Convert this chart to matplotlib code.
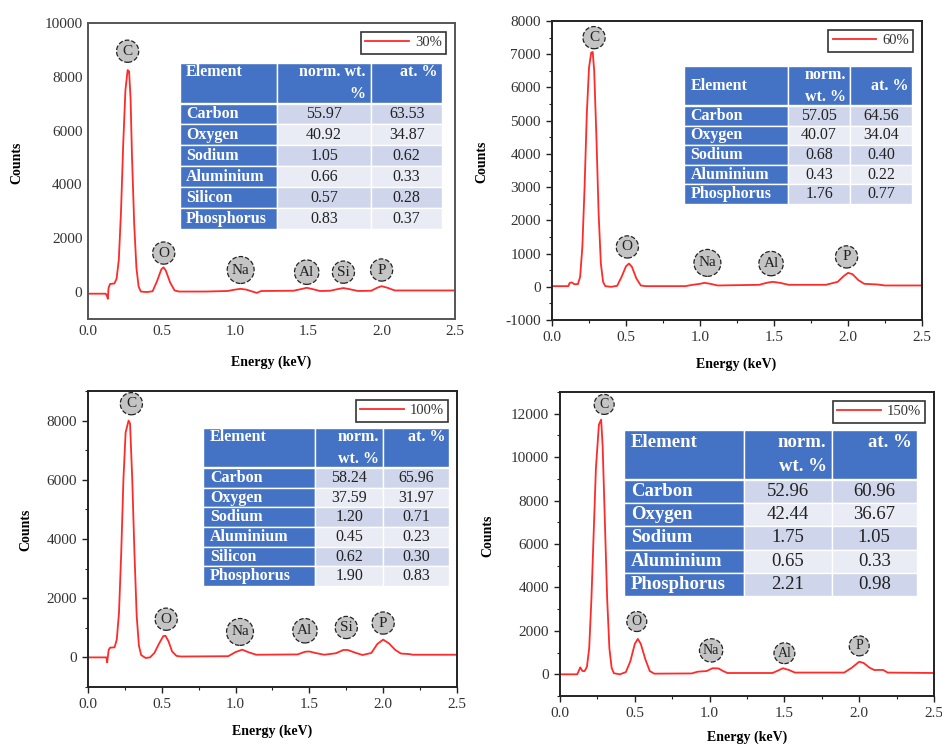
import matplotlib
matplotlib.use("Agg")
import matplotlib.pyplot as plt
from matplotlib.ticker import MultipleLocator, FormatStrFormatter

plt.rcParams["font.family"] = ["Liberation Serif", "DejaVu Serif"]
plt.rcParams["axes.unicode_minus"] = False

# ---- spectra (energy keV, counts) ----
e_30 = [0.00, 0.12, 0.13, 0.135, 0.14, 0.15, 0.18, 0.195, 0.21, 0.225, 0.24, 0.255, 0.27, 0.28,
        0.29, 0.30, 0.315, 0.33, 0.345, 0.36, 0.40, 0.44, 0.47, 0.50, 0.515, 0.53, 0.56, 0.59,
        0.62, 0.80, 0.95, 1.00, 1.04, 1.08, 1.12, 1.15, 1.18, 1.40, 1.46, 1.49, 1.53, 1.58,
        1.65, 1.70, 1.74, 1.78, 1.84, 1.93, 1.97, 2.00, 2.04, 2.09, 2.20, 2.50]
c_30 = [-60, -60, -150, -250, 150, 300, 320, 500, 1200, 3000, 5500, 7500, 8250, 8200,
        7200, 5000, 2500, 900, 200, 20, 0, 30, 400, 850, 920, 800, 350, 60,
        20, 20, 40, 90, 120, 90, 20, -30, 40, 50, 120, 160, 110, 40,
        50, 110, 150, 110, 40, 50, 160, 220, 160, 60, 60, 60]

e_60 = [0.00, 0.11, 0.12, 0.135, 0.15, 0.175, 0.19, 0.205, 0.22, 0.235, 0.25, 0.265, 0.275,
        0.285, 0.30, 0.315, 0.33, 0.345, 0.36, 0.40, 0.44, 0.47, 0.50, 0.52, 0.54, 0.57, 0.60,
        0.63, 0.90, 0.95, 1.00, 1.03, 1.07, 1.12, 1.40, 1.45, 1.49, 1.54, 1.60, 1.85, 1.93,
        1.97, 2.00, 2.03, 2.07, 2.11, 2.20, 2.25, 2.50]
c_60 = [20, 20, 120, 130, 80, 80, 300, 1200, 3000, 5200, 6600, 7050, 7070,
        6500, 4500, 2200, 700, 150, 20, 0, 30, 300, 620, 700, 600, 250, 40,
        20, 20, 60, 90, 120, 90, 40, 60, 120, 150, 120, 60, 60, 150,
        320, 420, 380, 200, 90, 70, 40, 40]

e_100 = [0.00, 0.125, 0.13, 0.14, 0.15, 0.18, 0.195, 0.21, 0.225, 0.24, 0.255, 0.275, 0.285,
         0.30, 0.315, 0.33, 0.345, 0.36, 0.39, 0.42, 0.45, 0.48, 0.51, 0.525, 0.545, 0.57, 0.60,
         0.63, 0.95, 1.00, 1.045, 1.09, 1.14, 1.42, 1.47, 1.50, 1.54, 1.60, 1.68, 1.73, 1.76,
         1.81, 1.86, 1.92, 1.96, 2.00, 2.04, 2.08, 2.12, 2.18, 2.20, 2.50]
c_100 = [0, 0, -170, 250, 330, 340, 600, 1500, 3500, 6000, 7600, 8000, 7900,
         6000, 3500, 1400, 400, 80, -20, 0, 150, 450, 720, 730, 550, 200, 50,
         30, 40, 180, 260, 170, 90, 100, 190, 200, 150, 90, 140, 250, 250,
         160, 80, 150, 450, 600, 470, 260, 130, 110, 90, 90]

e_150 = [0.00, 0.115, 0.125, 0.135, 0.15, 0.165, 0.18, 0.195, 0.21, 0.225, 0.24, 0.26, 0.275,
         0.285, 0.30, 0.315, 0.33, 0.345, 0.36, 0.40, 0.44, 0.47, 0.50, 0.52, 0.54, 0.57, 0.60,
         0.63, 0.88, 0.92, 0.98, 1.02, 1.06, 1.09, 1.12, 1.42, 1.46, 1.49, 1.53, 1.57, 1.90,
         1.95, 2.00, 2.03, 2.07, 2.10, 2.16, 2.19, 2.50]
c_150 = [0, 0, 150, 320, 150, 150, 350, 1200, 3500, 6500, 9500, 11500, 11730,
         10500, 7000, 3500, 1200, 300, 50, 0, 100, 600, 1400, 1630, 1400, 700, 150,
         30, 40, 120, 150, 280, 270, 150, 60, 60, 180, 280, 200, 80, 80,
         300, 580, 520, 300, 200, 200, 80, 60]

# ---- peak labels (symbol, energy, height of label) ----
lab_30 = [("C", 0.27, 8950), ("O", 0.516, 1450), ("Na", 1.04, 820),
          ("Al", 1.49, 740), ("Si", 1.74, 740), ("P", 2.0, 820)]
lab_60 = [("C", 0.284, 7500), ("O", 0.509, 1200), ("Na", 1.05, 720),
          ("Al", 1.48, 700), ("P", 1.99, 900)]
lab_100 = [("C", 0.294, 8570), ("O", 0.53, 1290), ("Na", 1.03, 860),
           ("Al", 1.47, 900), ("Si", 1.75, 1010), ("P", 2.0, 1160)]
lab_150 = [("C", 0.295, 12430), ("O", 0.513, 2430), ("Na", 1.01, 1100),
           ("Al", 1.5, 970), ("P", 2.0, 1310)]

# ---- composition tables ----
el_30 = ["Carbon", "Oxygen", "Sodium", "Aluminium", "Silicon", "Phosphorus"]
wt_30 = ["55.97", "40.92", "1.05", "0.66", "0.57", "0.83"]
at_30 = ["63.53", "34.87", "0.62", "0.33", "0.28", "0.37"]

el_60 = ["Carbon", "Oxygen", "Sodium", "Aluminium", "Phosphorus"]
wt_60 = ["57.05", "40.07", "0.68", "0.43", "1.76"]
at_60 = ["64.56", "34.04", "0.40", "0.22", "0.77"]

el_100 = ["Carbon", "Oxygen", "Sodium", "Aluminium", "Silicon", "Phosphorus"]
wt_100 = ["58.24", "37.59", "1.20", "0.45", "0.62", "1.90"]
at_100 = ["65.96", "31.97", "0.71", "0.23", "0.30", "0.83"]

el_150 = ["Carbon", "Oxygen", "Sodium", "Aluminium", "Phosphorus"]
wt_150 = ["52.96", "42.44", "1.75", "0.65", "2.21"]
at_150 = ["60.96", "36.67", "1.05", "0.33", "0.98"]

BLUE = "#4472c4"
DARK_ROW = "#cfd5ea"
LIGHT_ROW = "#e9ebf5"


def draw_table(ax, els, wts, ats, header, bbox, col_w, head_h, fs):
    rows = [list(header), ["", "", ""]] + [[e, w, a] for e, w, a in zip(els, wts, ats)]
    tab = ax.table(cellText=rows, bbox=bbox, cellLoc="center", zorder=5)
    tab.auto_set_font_size(False)
    for (r, c), cell in tab.get_celld().items():
        cell.set_width(col_w[c])
        cell.set_edgecolor("white")
        cell.set_linewidth(1.0)
        cell.PAD = 0.06
        txt = cell.get_text()
        txt.set_fontsize(fs)
        if r == 0:
            cell.set_height(head_h)
            cell.set_facecolor(BLUE)
            txt.set_color("white")
            txt.set_fontweight("bold")
            txt.set_horizontalalignment("left" if c == 0 else "right")
            txt.set_linespacing(1.5)
        elif r == 1:
            cell.set_height(0.04)
            cell.set_facecolor("white")
            cell.set_linewidth(0)
        else:
            cell.set_height(1.0)
            if c == 0:
                cell.set_facecolor(BLUE)
                txt.set_color("white")
                txt.set_fontweight("bold")
                txt.set_horizontalalignment("left")
            else:
                cell.set_facecolor(DARK_ROW if (r - 2) % 2 == 0 else LIGHT_ROW)
                txt.set_color("#222222")
    return tab


def style_axes(ax, ylim, ymaj, ymin, spine_col, ticks=True):
    ax.set_xlim(0, 2.5)
    ax.set_ylim(*ylim)
    ax.xaxis.set_major_locator(MultipleLocator(0.5))
    ax.xaxis.set_major_formatter(FormatStrFormatter("%.1f"))
    ax.yaxis.set_major_locator(MultipleLocator(ymaj))
    if ticks:
        ax.xaxis.set_minor_locator(MultipleLocator(0.25))
        ax.yaxis.set_minor_locator(MultipleLocator(ymin))
        ax.tick_params(which="major", direction="out", length=4, width=1.0, color="#222")
        ax.tick_params(which="minor", direction="out", length=2.5, width=0.8, color="#222")
    else:
        ax.tick_params(which="both", length=0)
    ax.tick_params(which="both", top=False, right=False, labelsize=11,
                   labelcolor="#333333", pad=4)
    for s in ax.spines.values():
        s.set_color(spine_col)
        s.set_linewidth(1.4)


def peak_labels(ax, labels, fs, pad):
    for sym, x, y in labels:
        ax.text(x, y, sym, ha="center", va="center", fontsize=fs, color="#222222", zorder=6,
                bbox=dict(boxstyle=f"circle,pad={pad}", fc="#c4c4c4", ec="#222222",
                          ls="--", lw=0.9))


fig = plt.figure(figsize=(9.42, 7.46), dpi=100)

# panel positions (left, bottom, width, height) in figure fraction
ax1 = fig.add_axes([0.0934, 0.5724, 0.3896, 0.3968])
ax2 = fig.add_axes([0.5860, 0.5710, 0.3928, 0.4008])
ax3 = fig.add_axes([0.0934, 0.0791, 0.3917, 0.3968])
ax4 = fig.add_axes([0.5945, 0.0670, 0.3970, 0.4075])

panels = [
    (ax1, e_30, c_30, "30%", lab_30, (-1000, 10000), 2000, 1000, "#555555", False,
     el_30, wt_30, at_30, ("Element\n", "norm. wt.\n%", "at. %\n"),
     [0.251, 0.304, 0.714, 0.561], [97, 94, 71], 1.9, 11.5, 11, 0.3,
     (-0.177, 0.527), (0.5, -0.122)),
    (ax2, e_60, c_60, "60%", lab_60, (-1000, 8000), 1000, 500, "#222222", True,
     el_60, wt_60, at_60, ("Element", "norm.\nwt. %", "at. %"),
     [0.357, 0.388, 0.616, 0.461], [104, 62, 62], 2.0, 11.5, 11, 0.3,
     (-0.173, 0.528), (0.498, -0.127)),
    (ax3, e_100, c_100, "100%", lab_100, (-1000, 9000), 2000, 1000, "#222222", True,
     el_100, wt_100, at_100, ("Element\n", "norm.\nwt. %", "at. %\n"),
     [0.312, 0.341, 0.667, 0.534], [112, 68, 66], 2.0, 11.5, 11, 0.3,
     (-0.152, 0.53), (0.5, -0.128)),
    (ax4, e_150, c_150, "150%", lab_150, (-1000, 13000), 2000, 1000, "#222222", True,
     el_150, wt_150, at_150, ("Element\n", "norm.\nwt. %", "at. %\n"),
     [0.171, 0.329, 0.783, 0.546], [120, 88, 85], 2.1, 13.5, 10, 0.25,
     (-0.176, 0.526), (0.5, -0.115)),
]

for (ax, en, cn, name, labs, ylim, ymaj, ymin, scol, ticks, els, wts, ats, head,
     bbox, colw, head_h, tfs, lfs, lpad, ylab_xy, xlab_xy) in panels:
    ax.plot(en, cn, color="#ff2a2a", lw=1.3, label=name)
    style_axes(ax, ylim, ymaj, ymin, scol, ticks)
    peak_labels(ax, labs, lfs, lpad)
    draw_table(ax, els, wts, ats, head, bbox, colw, head_h, tfs)
    leg = ax.legend(loc="upper right", fontsize=10.5, frameon=True, fancybox=False,
                    edgecolor="black", handlelength=3.0, borderpad=0.3,
                    borderaxespad=0.6, handletextpad=0.4)
    leg.get_frame().set_linewidth(1.2)
    for t in leg.get_texts():
        t.set_color("#333333")
    ax.set_ylabel("Counts", fontsize=10, fontweight="bold")
    ax.set_xlabel("Energy (keV)", fontsize=10, fontweight="bold")
    ax.yaxis.set_label_coords(*ylab_xy)
    ax.xaxis.set_label_coords(*xlab_xy)

fig.savefig("out.png", dpi=100)
